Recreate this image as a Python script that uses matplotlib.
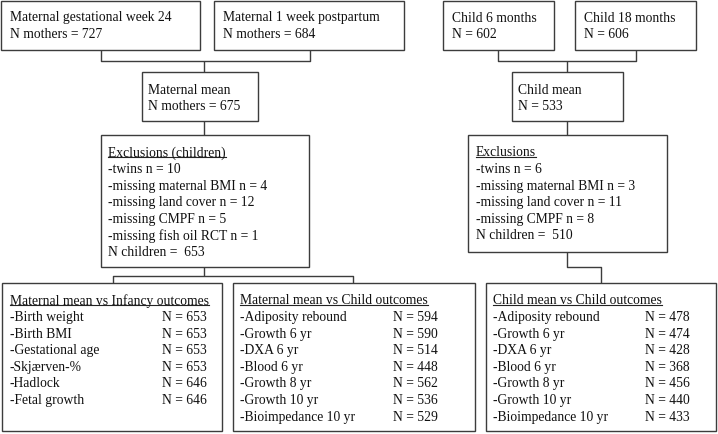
import matplotlib
matplotlib.use("Agg")
import matplotlib.pyplot as plt
from matplotlib.patches import Rectangle

plt.rcParams['font.family'] = ['Liberation Serif', 'DejaVu Serif']

# ---- data ----
top_titles = ["Maternal gestational week 24", "Maternal 1 week postpartum", "Child 6 months", "Child 18 months"]
top_counts = ["N mothers = 727", "N mothers = 684", "N = 602", "N = 606"]
mean_titles = ["Maternal mean", "Child mean"]
mean_counts = ["N mothers = 675", "N = 533"]
excl_titles = ["Exclusions (children)", "Exclusions"]
excl_mat = ["-twins n = 10", "-missing maternal BMI n = 4", "-missing land cover n = 12",
            "-missing CMPF n = 5", "-missing fish oil RCT n = 1", "N children =  653"]
excl_child = ["-twins n = 6", "-missing maternal BMI n = 3", "-missing land cover n = 11",
              "-missing CMPF n = 8", "N children =  510"]
out_titles = ["Maternal mean vs Infancy outcomes", "Maternal mean vs Child outcomes", "Child mean vs Child outcomes"]
infancy_outcomes = ["-Birth weight", "-Birth BMI", "-Gestational age", "-Skjærven-%", "-Hadlock", "-Fetal growth"]
infancy_n = [653, 653, 653, 653, 646, 646]
child_outcomes = ["-Adiposity rebound", "-Growth 6 yr", "-DXA 6 yr", "-Blood 6 yr",
                  "-Growth 8 yr", "-Growth 10 yr", "-Bioimpedance 10 yr"]
mat_child_n = [594, 590, 514, 448, 562, 536, 529]
child_child_n = [478, 474, 428, 368, 456, 440, 433]

W, H = 718, 435
fig = plt.figure(figsize=(W / 100, H / 100), dpi=100)
ax = fig.add_axes([0, 0, 1, 1])
ax.set_xlim(0, W)
ax.set_ylim(H, 0)
ax.axis('off')

EC = '#3c3c3c'
FS = 9.85
LH = 16.6


def box(x0, y0, x1, y1):
    ax.add_patch(Rectangle((x0, y0), x1 - x0, y1 - y0, fill=False, ec=EC, lw=1.0))


def line(xs, ys):
    ax.plot(xs, ys, color=EC, lw=1.0, solid_capstyle='butt')


under = []


def txt(x, y, s, underline=False):
    t = ax.text(x, y, s, fontsize=FS, va='center', ha='left', color='#111111')
    if underline:
        under.append(t)
    return t


# top boxes
top_boxes = [(1, 2, 200, 51), (214, 2, 404, 51), (443, 2, 554, 51), (575, 2, 696, 51)]
for (x0, y0, x1, y1), t, c in zip(top_boxes, top_titles, top_counts):
    box(x0, y0, x1, y1)
    txt(x0 + 9, 18, t)
    txt(x0 + 9, 34, c)

# connectors top -> mean
line([101, 101, 310, 310], [51, 62, 62, 51])
line([204, 204], [62, 73])
line([498, 498, 636, 636], [51, 62, 62, 51])
line([567, 567], [62, 73])

# mean boxes
mean_boxes = [(142, 73, 258, 122), (512, 73, 623, 122)]
for (x0, y0, x1, y1), t, c in zip(mean_boxes, mean_titles, mean_counts):
    box(x0, y0, x1, y1)
    txt(x0 + 6, 90, t)
    txt(x0 + 6, 107, c)

line([204, 204], [122, 136])
line([567, 567], [122, 136])

# exclusion boxes
box(101, 136, 309, 268)
txt(108, 153, excl_titles[0], underline=True)
for i, s in enumerate(excl_mat):
    txt(108, 153 + (i + 1) * LH, s)

box(468, 136, 667, 253)
txt(476, 153, excl_titles[1], underline=True)
for i, s in enumerate(excl_child):
    txt(476, 153 + (i + 1) * LH, s)

# connectors exclusions -> outcomes
line([204, 204], [268, 277])
line([113, 113, 353, 353], [284, 277, 277, 284])
line([567, 567, 601, 601], [253, 268, 268, 284])

# outcome boxes
box(2, 284, 222, 432)
box(233, 284, 475, 432)
box(486, 284, 716, 432)

out_specs = [
    (10, 162, infancy_outcomes, infancy_n),
    (240, 393, child_outcomes, mat_child_n),
    (493, 645, child_outcomes, child_child_n),
]
for (xl, xn, labels, ns), title in zip(out_specs, out_titles):
    txt(xl, 301, title, underline=True)
    for i, (lab, n) in enumerate(zip(labels, ns)):
        y = 301 + (i + 1) * LH
        txt(xl, y, lab)
        txt(xn, y, f"N = {n}")

# underlines
fig.canvas.draw()
r = fig.canvas.get_renderer()
inv = ax.transData.inverted()
for t in under:
    bb = t.get_window_extent(renderer=r)
    (xa, ya), (xb, yb) = inv.transform([(bb.x0, bb.y0), (bb.x1, bb.y1)])
    yu = ya - 1.8
    ax.plot([xa, xb], [yu, yu], color='#222222', lw=0.8)

fig.savefig("out.png", dpi=100)
